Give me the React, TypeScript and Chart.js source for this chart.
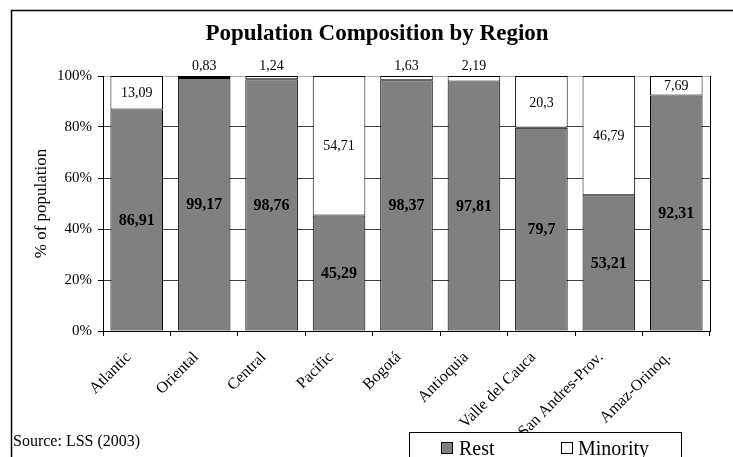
import React, { useEffect, useRef } from "react";
import { Chart, registerables } from "chart.js";

Chart.register(...registerables);

const regions = [
  "Atlantic",
  "Oriental",
  "Central",
  "Pacific",
  "Bogotá",
  "Antioquia",
  "Valle del Cauca",
  "San Andres-Prov.",
  "Amaz-Orinoq.",
];
const restShare = [86.91, 99.17, 98.76, 45.29, 98.37, 97.81, 79.7, 53.21, 92.31];
const minorityShare = [13.09, 0.83, 1.24, 54.71, 1.63, 2.19, 20.3, 46.79, 7.69];
const yTicks = [0, 20, 40, 60, 80, 100];

const SERIF = "'Liberation Serif', 'Times New Roman', serif";
const GRAY = "#808080";

const fmt = (v: number) => String(v).replace(".", ",");

// Frame, title, axis title, source note and legend box drawn around the chart
const decorations = {
  id: "decorations",
  beforeDraw(chart: any) {
    const { ctx, width, height } = chart;
    ctx.save();
    ctx.fillStyle = "#fff";
    ctx.fillRect(0, 0, width, height);
    ctx.restore();
  },
  beforeDatasetsDraw(chart: any) {
    const { ctx, chartArea } = chart;
    ctx.save();
    ctx.strokeStyle = "#000";
    ctx.lineWidth = 1;
    ctx.beginPath();
    ctx.moveTo(Math.round(chartArea.right) + 0.5, chartArea.top);
    ctx.lineTo(Math.round(chartArea.right) + 0.5, chartArea.bottom);
    ctx.stroke();
    ctx.restore();
  },
  afterDraw(chart: any) {
    const { ctx, width, height, chartArea } = chart;
    ctx.save();
    // outer frame
    ctx.strokeStyle = "#000";
    ctx.lineWidth = 1.5;
    ctx.strokeRect(11.5, 10.5, width + 20, height + 20);

    // title
    ctx.fillStyle = "#000";
    ctx.font = `bold 23px ${SERIF}`;
    ctx.textAlign = "center";
    ctx.textBaseline = "middle";
    ctx.fillText("Population Composition by Region", 377, 34);

    // y axis title
    ctx.save();
    ctx.translate(42, (chartArea.top + chartArea.bottom) / 2);
    ctx.rotate(-Math.PI / 2);
    ctx.font = `17px ${SERIF}`;
    ctx.fillText("% of population", 0, 0);
    ctx.restore();

    // source note
    ctx.font = `16px ${SERIF}`;
    ctx.textAlign = "left";
    ctx.fillText("Source: LSS (2003)", 13, 442);

    // legend
    ctx.fillStyle = "#fff";
    ctx.fillRect(409.5, 432.5, 272, 40);
    ctx.lineWidth = 1;
    ctx.strokeStyle = "#000";
    ctx.strokeRect(409.5, 432.5, 272, 40);

    ctx.fillStyle = GRAY;
    ctx.fillRect(441.5, 442.5, 11, 11);
    ctx.strokeRect(441.5, 442.5, 11, 11);
    ctx.fillStyle = "#fff";
    ctx.fillRect(561.5, 442.5, 11, 11);
    ctx.strokeRect(561.5, 442.5, 11, 11);

    ctx.fillStyle = "#000";
    ctx.font = `20px ${SERIF}`;
    ctx.textBaseline = "alphabetic";
    ctx.fillText(chart.data.datasets[0].label, 459, 455);
    ctx.fillText(chart.data.datasets[1].label, 578, 455);
    ctx.restore();
  },
};

// Value labels on each bar segment
const barLabels = {
  id: "barLabels",
  afterDatasetsDraw(chart: any) {
    const { ctx } = chart;
    ctx.save();
    ctx.fillStyle = "#000";
    ctx.textAlign = "center";
    chart.data.datasets.forEach((ds: any, di: number) => {
      const meta = chart.getDatasetMeta(di);
      meta.data.forEach((bar: any, i: number) => {
        const v = ds.data[i] as number;
        const { x, y, base } = bar.getProps(["x", "y", "base"], true);
        if (di === 0) {
          ctx.font = `bold 16px ${SERIF}`;
          ctx.textBaseline = "middle";
          ctx.fillText(fmt(v), x, (y + base) / 2 + 1);
        } else {
          ctx.font = `14px ${SERIF}`;
          if (v < 5) {
            ctx.textBaseline = "bottom";
            ctx.fillText(fmt(v), x, y - 3);
          } else {
            ctx.textBaseline = "middle";
            ctx.fillText(fmt(v), x, (y + base) / 2 + 1);
          }
        }
      });
    });
    ctx.restore();
  },
};

export default function App() {
  const canvasRef = useRef<HTMLCanvasElement | null>(null);

  useEffect(() => {
    if (!canvasRef.current) return;
    const chart = new Chart(canvasRef.current, {
      type: "bar",
      data: {
        labels: regions,
        datasets: [
          {
            label: "Rest",
            data: restShare,
            backgroundColor: GRAY,
            borderColor: "#000",
            borderWidth: 1,
            borderSkipped: false,
            categoryPercentage: 1,
            barPercentage: 0.78,
          },
          {
            label: "Minority",
            data: minorityShare,
            backgroundColor: "#fff",
            borderColor: "#000",
            borderWidth: 1,
            borderSkipped: false,
            categoryPercentage: 1,
            barPercentage: 0.78,
          },
        ],
      },
      options: {
        animation: false,
        responsive: true,
        maintainAspectRatio: false,
        layout: { padding: { top: 76, right: 23, left: 0, bottom: 0 } },
        plugins: {
          legend: { display: false },
          title: { display: false },
          tooltip: { enabled: false },
        },
        scales: {
          x: {
            stacked: true,
            offset: true,
            grid: {
              display: true,
              offset: true,
              drawOnChartArea: false,
              tickLength: 5,
              color: "#000",
            },
            border: { display: true, color: "#000", width: 1 },
            ticks: {
              autoSkip: false,
              minRotation: 45,
              maxRotation: 45,
              padding: 12,
              labelOffset: -8,
              color: "#000",
              font: { family: SERIF, size: 16 },
            },
            afterFit: (s: any) => {
              s.height = 126;
            },
          },
          y: {
            stacked: true,
            min: 0,
            max: 100,
            afterBuildTicks: (s: any) => {
              s.ticks = yTicks.map((v) => ({ value: v }));
            },
            ticks: {
              padding: 6,
              color: "#000",
              font: { family: SERIF, size: 15 },
              callback: (v: any) => `${v}%`,
            },
            grid: {
              color: (c: any) => (c.tick && c.tick.value === 100 ? "#b0b0b0" : "#404040"),
              tickColor: "#000",
              tickLength: 5,
              lineWidth: 1,
            },
            border: { display: true, color: "#000", width: 1 },
            title: { display: false },
            afterFit: (s: any) => {
              s.width = 103;
            },
          },
        },
      },
      plugins: [decorations, barLabels],
    });
    return () => chart.destroy();
  }, []);

  return (
    <div style={{ position: "fixed", left: 0, top: 0, width: 733, height: 457 }}>
      <canvas ref={canvasRef} />
    </div>
  );
}
